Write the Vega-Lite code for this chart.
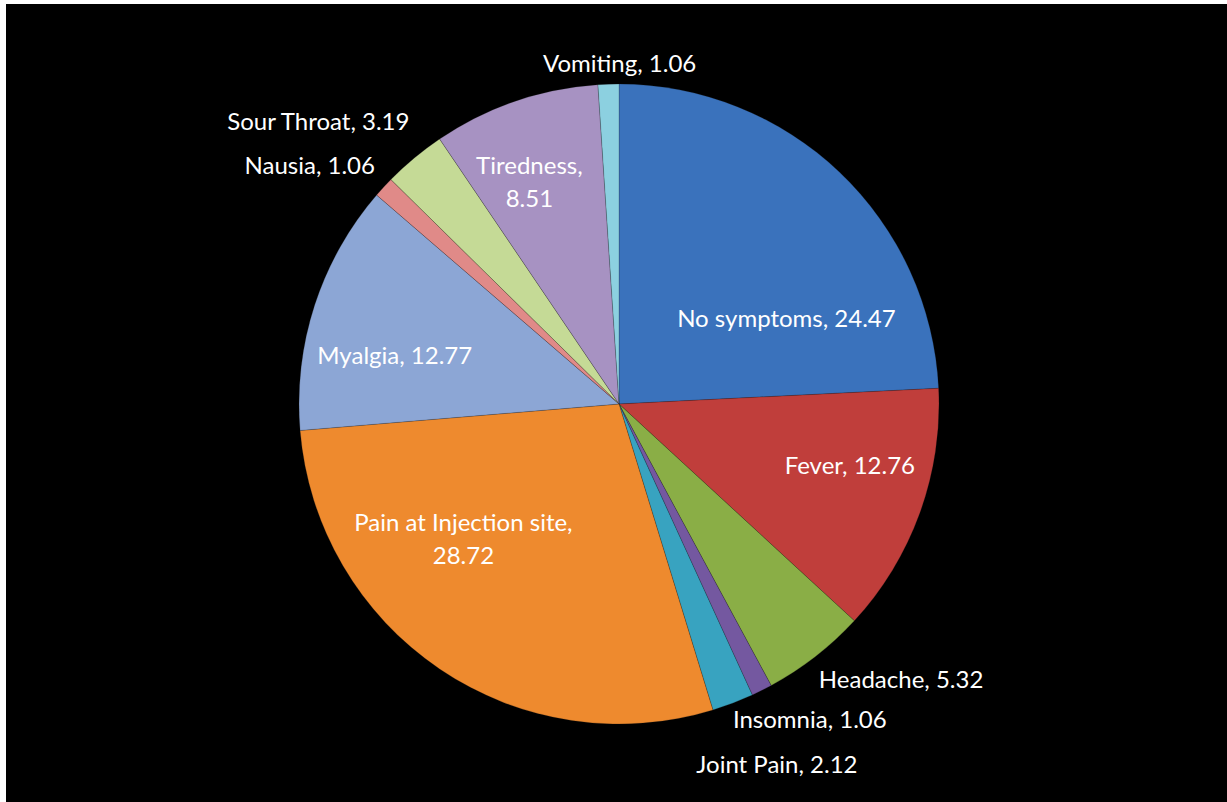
{
  "$schema": "https://vega.github.io/schema/vega-lite/v6.json",
  "width": 1227,
  "height": 802,
  "autosize": {"type": "fit", "contains": "padding"},
  "padding": {"left": 6, "top": 4, "right": 0, "bottom": 0},
  "background": "white",
  "view": {"fill": "black", "stroke": null},
  "data": {
    "values": [
      {"idx": 1, "symptom": "No symptoms", "value": 24.47, "label": "No symptoms, 24.47"},
      {"idx": 2, "symptom": "Fever", "value": 12.76, "label": "Fever, 12.76"},
      {"idx": 3, "symptom": "Headache", "value": 5.32, "label": "Headache, 5.32"},
      {"idx": 4, "symptom": "Insomnia", "value": 1.06, "label": "Insomnia, 1.06"},
      {"idx": 5, "symptom": "Joint Pain", "value": 2.12, "label": "Joint Pain, 2.12"},
      {"idx": 6, "symptom": "Pain at Injection site", "value": 28.72, "label": "Pain at Injection site,\n28.72"},
      {"idx": 7, "symptom": "Myalgia", "value": 12.77, "label": "Myalgia, 12.77"},
      {"idx": 8, "symptom": "Nausia", "value": 1.06, "label": "Nausia, 1.06"},
      {"idx": 9, "symptom": "Sour Throat", "value": 3.19, "label": "Sour Throat, 3.19"},
      {"idx": 10, "symptom": "Tiredness", "value": 8.51, "label": "Tiredness,\n8.51"},
      {"idx": 11, "symptom": "Vomiting", "value": 1.06, "label": "Vomiting, 1.06"}
    ]
  },
  "encoding": {
    "theta": {"field": "value", "type": "quantitative", "stack": true},
    "order": {"field": "idx", "type": "quantitative"}
  },
  "layer": [
    {
      "mark": {"type": "arc", "outerRadius": 320, "xOffset": 2.5, "yOffset": 1, "stroke": "#1a1a1a", "strokeWidth": 0.5, "strokeOpacity": 0.4},
      "encoding": {
        "color": {
          "field": "symptom", "type": "nominal", "sort": null, "legend": null,
          "scale": {
            "domain": ["No symptoms", "Fever", "Headache", "Insomnia", "Joint Pain", "Pain at Injection site", "Myalgia", "Nausia", "Sour Throat", "Tiredness", "Vomiting"],
            "range": ["#3A72BC", "#C03E3B", "#8AAE46", "#7458A0", "#38A3C0", "#EE8A2E", "#8CA6D5", "#E08A88", "#C5DA96", "#A792C2", "#8CD0E0"]
          }
        }
      }
    },
    {
      "mark": {"type": "text", "radius": 200, "dx": 32, "dy": 62, "font": "Lato", "fontSize": 24, "color": "white", "lineBreak": "\n", "lineHeight": 33},
      "encoding": {"text": {"condition": {"test": "datum.symptom !== 'No symptoms'", "value": ""}, "field": "label", "type": "nominal"}}
    },
    {
      "mark": {"type": "text", "radius": 245, "dx": 3, "dy": -19, "font": "Lato", "fontSize": 24, "color": "white", "lineBreak": "\n", "lineHeight": 33},
      "encoding": {"text": {"condition": {"test": "datum.symptom !== 'Fever'", "value": ""}, "field": "label", "type": "nominal"}}
    },
    {
      "mark": {"type": "text", "radius": 330, "dx": 82, "dy": 18, "font": "Lato", "fontSize": 24, "color": "white", "lineBreak": "\n", "lineHeight": 33},
      "encoding": {"text": {"condition": {"test": "datum.symptom !== 'Headache'", "value": ""}, "field": "label", "type": "nominal"}}
    },
    {
      "mark": {"type": "text", "radius": 330, "dx": 46, "dy": 23, "font": "Lato", "fontSize": 24, "color": "white", "lineBreak": "\n", "lineHeight": 33},
      "encoding": {"text": {"condition": {"test": "datum.symptom !== 'Insomnia'", "value": ""}, "field": "label", "type": "nominal"}}
    },
    {
      "mark": {"type": "text", "radius": 330, "dx": 43, "dy": 55, "font": "Lato", "fontSize": 24, "color": "white", "lineBreak": "\n", "lineHeight": 33},
      "encoding": {"text": {"condition": {"test": "datum.symptom !== 'Joint Pain'", "value": ""}, "field": "label", "type": "nominal"}}
    },
    {
      "mark": {"type": "text", "radius": 200, "dx": -41, "dy": -45, "font": "Lato", "fontSize": 24, "color": "white", "lineBreak": "\n", "lineHeight": 33},
      "encoding": {"text": {"condition": {"test": "datum.symptom !== 'Pain at Injection site'", "value": ""}, "field": "label", "type": "nominal"}}
    },
    {
      "mark": {"type": "text", "radius": 230, "dx": -3, "dy": 25, "font": "Lato", "fontSize": 24, "color": "white", "lineBreak": "\n", "lineHeight": 33},
      "encoding": {"text": {"condition": {"test": "datum.symptom !== 'Myalgia'", "value": ""}, "field": "label", "type": "nominal"}}
    },
    {
      "mark": {"type": "text", "radius": 330, "dx": -64, "dy": -12, "font": "Lato", "fontSize": 24, "color": "white", "lineBreak": "\n", "lineHeight": 33},
      "encoding": {"text": {"condition": {"test": "datum.symptom !== 'Nausia'", "value": ""}, "field": "label", "type": "nominal"}}
    },
    {
      "mark": {"type": "text", "radius": 330, "dx": -87, "dy": -26, "font": "Lato", "fontSize": 24, "color": "white", "lineBreak": "\n", "lineHeight": 33},
      "encoding": {"text": {"condition": {"test": "datum.symptom !== 'Sour Throat'", "value": ""}, "field": "label", "type": "nominal"}}
    },
    {
      "mark": {"type": "text", "radius": 250, "dx": -6, "dy": 0, "font": "Lato", "fontSize": 24, "color": "white", "lineBreak": "\n", "lineHeight": 33},
      "encoding": {"text": {"condition": {"test": "datum.symptom !== 'Tiredness'", "value": ""}, "field": "label", "type": "nominal"}}
    },
    {
      "mark": {"type": "text", "radius": 330, "dx": 14, "dy": -8, "font": "Lato", "fontSize": 24, "color": "white", "lineBreak": "\n", "lineHeight": 33},
      "encoding": {"text": {"condition": {"test": "datum.symptom !== 'Vomiting'", "value": ""}, "field": "label", "type": "nominal"}}
    }
  ]
}
